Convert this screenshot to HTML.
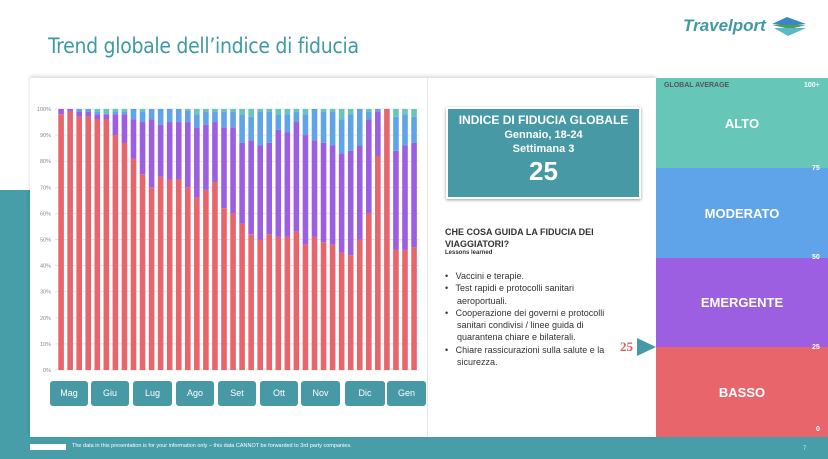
<!DOCTYPE html>
<html><head><meta charset="utf-8"><style>
*{margin:0;padding:0;box-sizing:border-box}
body{width:828px;height:459px;overflow:hidden;background:#fff;font-family:"Liberation Sans",sans-serif;position:relative}
.abs{position:absolute}
</style></head><body>
<div class="abs" style="left:0;top:190px;width:828px;height:269px;background:#479da8"></div>
<div class="abs" style="left:48px;top:34px;font-size:21px;color:#3f9aa6;font-family:'DejaVu Sans Condensed','Liberation Sans Narrow',sans-serif;letter-spacing:-0.3px">Trend globale dell’indice di fiducia</div>
<div class="abs" style="left:683px;top:16px;font-size:17px;font-weight:bold;font-style:italic;color:#3f9aa6">Travelport</div>
<svg class="abs" style="left:770px;top:15px" width="40" height="22"><polygon points="2,9 17,2 36,9 18,11" fill="#3a86c8"/><polygon points="2,10 36,10 20,14" fill="#4aa34a"/><polygon points="4,13 36,13 18,21" fill="#5bb8c8"/></svg>
<div class="abs" style="left:30px;top:78px;width:626px;height:359px;background:#fff;box-shadow:0 -2px 4px rgba(0,0,0,0.15)"></div>
<div class="abs" style="left:427px;top:78px;width:1px;height:359px;background:#e6e6e6"></div>
<svg class="abs" style="left:30px;top:95px" width="397" height="285" id="ch"></svg>
<div class="abs" style="left:446px;top:107px;width:195px;height:92px;background:#4799a6;border:2px solid #fff;box-shadow:0 1px 3px rgba(0,0,0,.4);color:#fff;text-align:center;font-weight:bold">
<div style="font-size:12px;margin-top:4px">INDICE DI FIDUCIA GLOBALE</div>
<div style="font-size:11px;margin-top:2px">Gennaio, 18-24</div>
<div style="font-size:11px;margin-top:2px">Settimana 3</div>
<div style="font-size:26px;margin-top:1px">25</div></div>
<div class="abs" style="left:445px;top:226px;font-size:9px;color:#333;line-height:12px;font-weight:bold">CHE COSA GUIDA LA FIDUCIA DEI<br>VIAGGIATORI?</div>
<div class="abs" style="left:445px;top:250px;font-size:6px;color:#333;font-weight:bold">Lessons learned</div>
<div class="abs" style="left:445px;top:270px;font-size:9px;color:#333;line-height:12.3px;width:178px">
<div>•&nbsp;&nbsp; Vaccini e terapie.</div>
<div style="padding-left:12px;text-indent:-12px">•&nbsp;&nbsp; Test rapidi e protocolli sanitari aeroportuali.</div>
<div style="padding-left:12px;text-indent:-12px">•&nbsp;&nbsp; Cooperazione dei governi e protocolli sanitari condivisi / linee guida di quarantena chiare e bilaterali.</div>
<div style="padding-left:12px;text-indent:-12px">•&nbsp;&nbsp; Chiare rassicurazioni sulla salute e la sicurezza.</div></div>
<div class="abs" style="left:620px;top:339px;font-size:13px;color:#e35a5f;font-weight:bold;font-family:'Liberation Serif',serif">25</div>
<svg class="abs" style="left:637px;top:337px" width="20" height="20"><polygon points="0,1 19,10 0,19" fill="#4799a6"/></svg>
<div class="abs" style="left:656px;top:78px;width:172px;height:90px;background:#66c6b8"></div>
<div class="abs" style="left:656px;top:168px;width:172px;height:90px;background:#5fa4e8"></div>
<div class="abs" style="left:656px;top:258px;width:172px;height:89px;background:#9c5fe2"></div>
<div class="abs" style="left:656px;top:347px;width:172px;height:90px;background:#e8666b"></div>
<div class="abs" style="left:664px;top:82px;font-size:7px;color:#555;font-weight:bold">GLOBAL AVERAGE</div>
<div class="abs" style="left:804px;top:82px;font-size:7px;color:#fff;font-weight:bold">100+</div>
<div class="abs" style="left:812px;top:165px;font-size:7px;color:#fff;font-weight:bold">75</div>
<div class="abs" style="left:812px;top:254px;font-size:7px;color:#fff;font-weight:bold">50</div>
<div class="abs" style="left:812px;top:344px;font-size:7px;color:#fff;font-weight:bold">25</div>
<div class="abs" style="left:816px;top:426px;font-size:7px;color:#fff;font-weight:bold">0</div>
<div class="abs" style="left:656px;top:116px;width:172px;text-align:center;color:#fff;font-weight:bold;font-size:13px">ALTO</div>
<div class="abs" style="left:656px;top:206px;width:172px;text-align:center;color:#fff;font-weight:bold;font-size:13px">MODERATO</div>
<div class="abs" style="left:656px;top:295px;width:172px;text-align:center;color:#fff;font-weight:bold;font-size:13px">EMERGENTE</div>
<div class="abs" style="left:656px;top:385px;width:172px;text-align:center;color:#fff;font-weight:bold;font-size:13px">BASSO</div>
<div id="btns"></div>
<div class="abs" style="left:30px;top:444px;width:36px;height:6px;background:#fff"></div>
<div class="abs" style="left:72px;top:443px;font-size:5.5px;color:#fff">The data in this presentation is for your information only – this data CANNOT be forwarded to 3rd party companies.</div>
<div class="abs" style="left:803px;top:446px;font-size:6px;color:#ddd">7</div>
<script>
var d=[[98,100,100],[99,100,100],[97,99,100],[97,99,100],[96,98,99],[96,98,98],[90,98,99],[87,98,99],[81,96,100],[75,95,99],[70,96,100],[74,94,100],[73,95,100],[73,95,100],[70,95,99.5],[66,93,98],[69,94,99],[72,95,99],[62,93,99],[60,93,99],[56,87,98],[52,88,97],[50,86,99],[52,87,99],[51,92,98],[51,91,98],[53,95,99],[48,90,98],[51,88,100],[49,87,99],[48,86,99],[45,83,96],[44,84,98],[50,86,100],[60,96,99],[82,99,100],[100,100,100],[46,84,97],[46,86,98],[47,87,97]];
var s='',y0=275,h=261;
for(var i=0;i<=10;i++){var y=y0-h*i/10;s+='<line x1="25" x2="389" y1="'+y+'" y2="'+y+'" stroke="#e4dce0" stroke-width="0.7"/><text x="21" y="'+(y+2)+'" font-size="5.5" fill="#888" text-anchor="end" font-family="Liberation Sans">'+(i*10)+'%</text>';}
d.forEach(function(b,i){var x=28.3+i*9.05,w=5.6;function r(a,c,col){if(c>a)s+='<rect x="'+x+'" y="'+(y0-h*c/100)+'" width="'+w+'" height="'+(h*(c-a)/100)+'" fill="'+col+'"/>';}
r(0,b[0],'#e8666b');r(b[0],b[1],'#9c5fe2');r(b[1],b[2],'#5fa4e8');r(b[2],100,'#66c6b8');});
document.getElementById('ch').innerHTML=s;
var m=[['Mag',50,88],['Giu',91,129],['Lug',133,172],['Ago',176,214],['Set',218,256],['Ott',260,298],['Nov',301,340],['Dic',345,385],['Gen',387,426]],t='';
m.forEach(function(a){t+='<div class="abs" style="left:'+a[1]+'px;top:381px;width:'+(a[2]-a[1])+'px;height:25px;background:#4799a6;border-radius:3px;color:#fff;font-size:9px;text-align:center;line-height:25px">'+a[0]+'</div>';});
document.getElementById('btns').innerHTML=t;
</script>
</body></html>
